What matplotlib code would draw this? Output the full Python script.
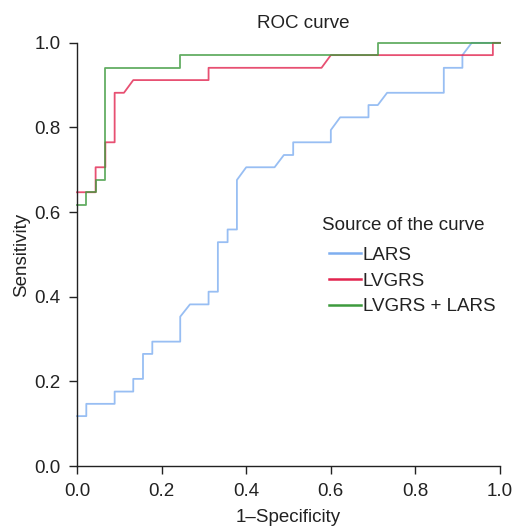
import matplotlib.pyplot as plt

plt.rcParams['font.family'] = ['Liberation Sans', 'DejaVu Sans']

# ROC vertices (1-specificity, sensitivity)
lars_fpr = [0, 0.022, 0.022, 0.089, 0.089, 0.133, 0.133, 0.156, 0.156, 0.178, 0.178,
            0.244, 0.244, 0.267, 0.311, 0.311, 0.333, 0.333, 0.356, 0.356, 0.378, 0.378,
            0.4, 0.467, 0.489, 0.511, 0.511, 0.6, 0.6, 0.622, 0.689, 0.689, 0.711, 0.733,
            0.867, 0.867, 0.911, 0.911, 0.933, 1.0]
lars_tpr = [0.118, 0.118, 0.147, 0.147, 0.176, 0.176, 0.206, 0.206, 0.265, 0.265, 0.294,
            0.294, 0.353, 0.382, 0.382, 0.412, 0.412, 0.529, 0.529, 0.559, 0.559, 0.676,
            0.706, 0.706, 0.735, 0.735, 0.765, 0.765, 0.794, 0.824, 0.824, 0.853, 0.853, 0.882,
            0.882, 0.941, 0.941, 0.971, 1.0, 1.0]

lvgrs_fpr = [0, 0.044, 0.044, 0.067, 0.067, 0.089, 0.089, 0.111, 0.133, 0.311, 0.311,
             0.578, 0.6, 0.983, 0.983, 1.0]
lvgrs_tpr = [0.647, 0.647, 0.706, 0.706, 0.765, 0.765, 0.882, 0.882, 0.912, 0.912, 0.941,
             0.941, 0.971, 0.971, 1.0, 1.0]

combo_fpr = [0, 0.022, 0.022, 0.044, 0.044, 0.067, 0.067, 0.244, 0.244, 0.711, 0.711, 1.0]
combo_tpr = [0.618, 0.618, 0.647, 0.647, 0.676, 0.676, 0.941, 0.941, 0.971, 0.971, 1.0, 1.0]

labels = ['LARS', 'LVGRS', 'LVGRS + LARS']
colors = ['#7eaef0', '#e2244f', '#3d9a3d']
txt = '#222222'
fs = 13.5

fig = plt.figure(figsize=(5.15, 5.29), dpi=100)
ax = fig.add_axes([0.1495, 0.119, 0.8215, 0.8])

for fpr, tpr, lab, col in zip([lars_fpr, lvgrs_fpr, combo_fpr],
                              [lars_tpr, lvgrs_tpr, combo_tpr], labels, colors):
    ax.plot(fpr, tpr, color=col, lw=1.3, alpha=0.8, label=lab, clip_on=False)

ax.set_xlim(0, 1)
ax.set_ylim(0, 1)
ticks = [0, 0.2, 0.4, 0.6, 0.8, 1.0]
ax.set_xticks(ticks)
ax.set_yticks(ticks)
ax.set_xticklabels(['%.1f' % t for t in ticks])
ax.set_yticklabels(['%.1f' % t for t in ticks])
ax.tick_params(labelsize=fs, length=6, width=1, colors=txt, pad=6)
for s in ['top', 'right']:
    ax.spines[s].set_visible(False)
for s in ['left', 'bottom']:
    ax.spines[s].set_color(txt)
    ax.spines[s].set_linewidth(1)

ax.text(0.534, 1.036, 'ROC curve', transform=ax.transAxes, fontsize=fs, color=txt,
        ha='center', va='baseline')
ax.set_xlabel('1\u2013Specificity', fontsize=fs, color=txt, labelpad=7)
ax.set_ylabel('Sensitivity', fontsize=fs, color=txt, labelpad=3)

# legend title drawn separately so the handles sit a little indented
ax.text(0.579, 0.558, 'Source of the curve', transform=ax.transAxes, fontsize=fs,
        color=txt, ha='left', va='baseline')
leg = ax.legend(loc='upper left', bbox_to_anchor=(0.596, 0.518), frameon=False,
                fontsize=fs, handlelength=1.7, handletextpad=0.1, labelspacing=0.45,
                borderpad=0, borderaxespad=0)
for t in leg.get_texts():
    t.set_color(txt)
for h in leg.get_lines():
    h.set_alpha(1)
    h.set_linewidth(1.8)

fig.savefig('out.png', dpi=100)
